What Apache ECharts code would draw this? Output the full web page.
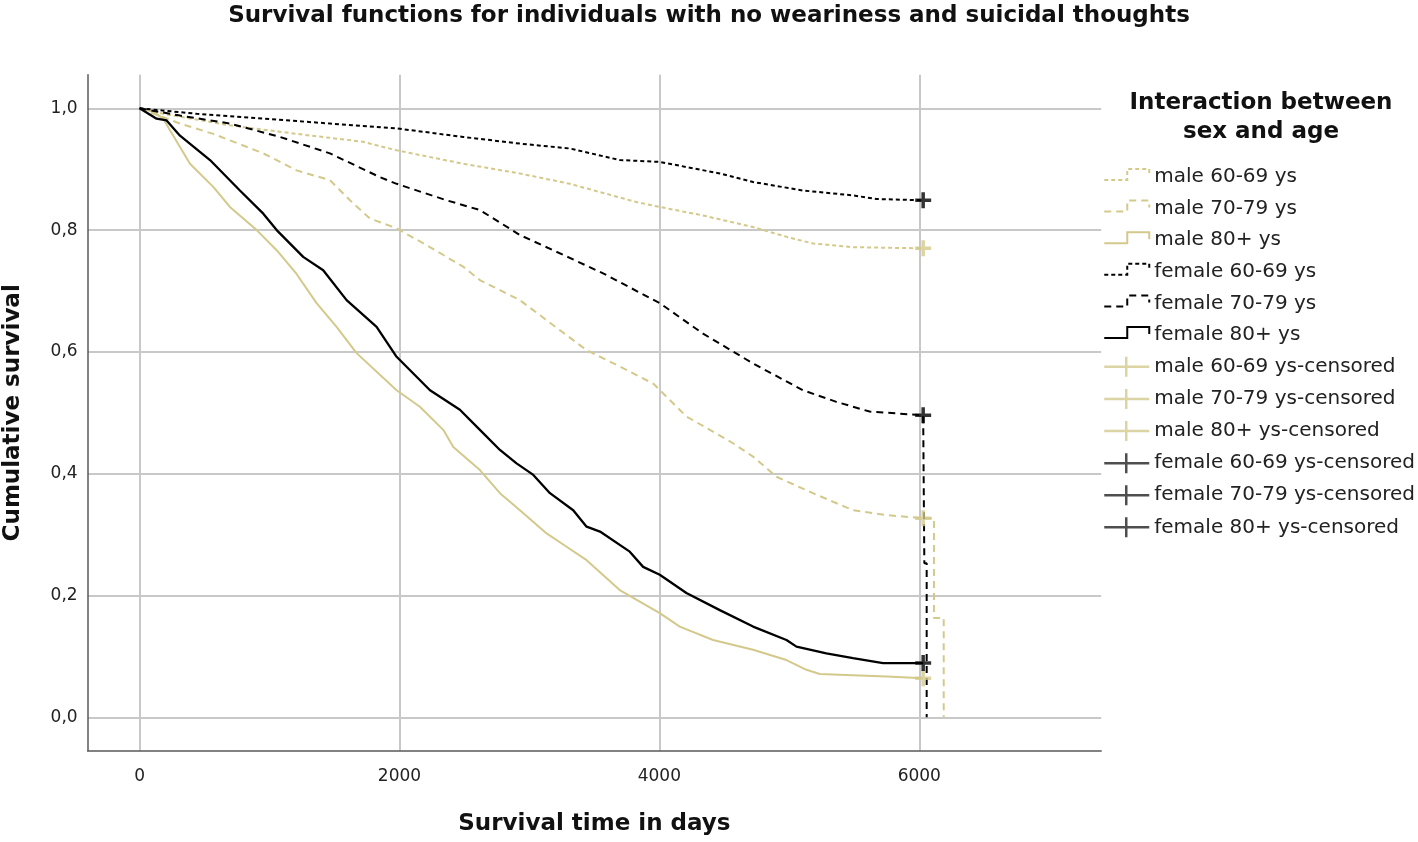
<!DOCTYPE html>
<html>
<head>
<meta charset="utf-8">
<script src="https://cdn.jsdelivr.net/npm/echarts@6/dist/echarts.min.js"></script>
<style>html,body{margin:0;padding:0;background:#fff}#chart{width:1418px;height:842px}</style>
</head>
<body>
<div id="chart"></div>
<script>
// ---- data ----
const xTicks = [0, 2000, 4000, 6000];
const yTicks = [0, 0.2, 0.4, 0.6, 0.8, 1.0];
const groupNames = ['male 60-69 ys', 'male 70-79 ys', 'male 80+ ys', 'female 60-69 ys', 'female 70-79 ys', 'female 80+ ys'];

const m60T = [0, 182, 695, 1208, 1721, 1978, 2490, 2926, 3311, 3824, 4003, 4336, 4721, 4978, 5182, 5490, 6030];
const m60S = [1, 0.991, 0.972, 0.958, 0.945, 0.931, 0.909, 0.893, 0.876, 0.846, 0.838, 0.824, 0.805, 0.789, 0.778, 0.772, 0.770];

const m70T = [0, 311, 567, 952, 1208, 1465, 1619, 1772, 1978, 2234, 2490, 2618, 2926, 3439, 3697, 3952, 4080, 4208, 4567, 4721, 4901, 5182, 5490, 5747, 6030, 6113, 6113, 6188, 6188];
const m70S = [1, 0.975, 0.958, 0.926, 0.898, 0.882, 0.849, 0.819, 0.803, 0.772, 0.740, 0.718, 0.685, 0.603, 0.576, 0.548, 0.521, 0.494, 0.450, 0.428, 0.395, 0.368, 0.340, 0.332, 0.327, 0.327, 0.163, 0.163, 0];

const m80T = [0, 100, 182, 234, 388, 567, 695, 901, 1055, 1208, 1362, 1516, 1670, 1978, 2157, 2337, 2414, 2619, 2773, 2927, 3132, 3286, 3440, 3695, 4003, 4157, 4413, 4721, 4978, 5132, 5234, 5747, 6030];
const m80S = [1, 0.995, 0.983, 0.964, 0.909, 0.871, 0.838, 0.800, 0.767, 0.728, 0.680, 0.641, 0.598, 0.537, 0.510, 0.472, 0.444, 0.406, 0.368, 0.340, 0.302, 0.280, 0.258, 0.209, 0.171, 0.149, 0.127, 0.111, 0.094, 0.078, 0.071, 0.067, 0.064];

const f60T = [0, 439, 952, 1465, 1978, 2490, 2926, 3311, 3695, 4003, 4465, 4721, 5105, 5490, 5670, 6030];
const f60S = [1, 0.991, 0.983, 0.975, 0.967, 0.953, 0.942, 0.934, 0.915, 0.912, 0.893, 0.879, 0.865, 0.857, 0.851, 0.849];

const f70T = [0, 311, 695, 1080, 1465, 1849, 1978, 2362, 2618, 2926, 3182, 3567, 4003, 4336, 4721, 5105, 5362, 5618, 6030, 6039, 6039, 6057, 6057];
const f70S = [1, 0.988, 0.975, 0.953, 0.926, 0.887, 0.876, 0.849, 0.833, 0.792, 0.767, 0.729, 0.680, 0.630, 0.581, 0.537, 0.518, 0.502, 0.496, 0.496, 0.253, 0.253, 0];

const f80T = [0, 131, 208, 311, 542, 772, 952, 1055, 1259, 1413, 1593, 1824, 1978, 2235, 2465, 2619, 2773, 2901, 3030, 3158, 3337, 3440, 3543, 3772, 3875, 4003, 4208, 4465, 4721, 4978, 5055, 5285, 5490, 5721, 6030];
const f80S = [1, 0.983, 0.980, 0.955, 0.915, 0.865, 0.827, 0.800, 0.756, 0.734, 0.685, 0.641, 0.592, 0.537, 0.505, 0.472, 0.439, 0.417, 0.398, 0.368, 0.340, 0.313, 0.305, 0.272, 0.247, 0.234, 0.204, 0.176, 0.149, 0.127, 0.116, 0.105, 0.097, 0.089, 0.089];

// censored marks (last follow-up time, survival)
const censorT = [6030, 6030, 6030, 6030, 6030, 6030];
const censorS = [0.770, 0.327, 0.064, 0.849, 0.496, 0.089];

// ---- styles ----
const TAN = '#d3c98b';
const BLK = '#000000';
const FONT = 'DejaVu Sans';
const colors = [TAN, TAN, TAN, BLK, BLK, BLK];
const dashes = [[4, 3], [7, 5], 'solid', [4, 3], [7, 5], 'solid'];
const widths = [2, 2, 2, 2, 2, 2.3];
const curvesT = [m60T, m70T, m80T, f60T, f70T, f80T];
const curvesS = [m60S, m70S, m80S, f60S, f70S, f80S];

const stepIcon = 'path://M0,0 L0,0 M0,13 L23,13 L23,2 L45,2 L45,9 M45,20 L45,20';
const crossIcon = 'path://M0,10 L45,10 M22,0 L22,20';
const crossMark = 'path://M0,6 L12,6 M6,0 L6,12';

const series = [];
const legendData = [];
groupNames.forEach((name, i) => {
  series.push({
    name: name,
    type: 'line',
    data: curvesT[i].map((t, k) => [t, curvesS[i][k]]),
    showSymbol: false,
    symbol: 'none',
    lineStyle: { color: colors[i], width: widths[i], type: dashes[i] },
    itemStyle: { color: colors[i] },
    z: i >= 3 ? 4 : 3
  });
  legendData.push({
    name: name,
    icon: stepIcon,
    itemStyle: { color: 'rgba(0,0,0,0)', borderColor: colors[i], borderWidth: 2, borderType: dashes[i] }
  });
});
groupNames.forEach((name, i) => {
  series.push({
    name: name + '-censored',
    type: 'scatter',
    data: [[censorT[i], censorS[i]]],
    symbol: crossMark,
    symbolSize: 16,
    itemStyle: { color: 'rgba(0,0,0,0)', borderColor: colors[i], borderWidth: 3.5 },
    z: 6
  });
  legendData.push({
    name: name + '-censored',
    icon: crossIcon,
    itemStyle: { color: 'rgba(0,0,0,0)', borderColor: i >= 3 ? '#222' : TAN, borderWidth: 2.5, borderType: 'solid' }
  });
});

const chart = echarts.init(document.getElementById('chart'), null, { renderer: 'canvas' });
chart.setOption({
  animation: false,
  backgroundColor: '#ffffff',
  title: [
    {
      text: 'Survival functions for individuals with no weariness and suicidal thoughts',
      left: 'center', top: 0,
      textStyle: { fontFamily: FONT, fontSize: 23, fontWeight: 'bold', color: '#111' }
    },
    {
      text: 'Interaction between\nsex and age',
      left: 1256, top: 84,
      textAlign: 'center', textVerticalAlign: 'top',
      textStyle: { fontFamily: FONT, fontSize: 23, fontWeight: 'bold', color: '#111', lineHeight: 29 }
    }
  ],
  legend: {
    orient: 'vertical',
    left: 1103, top: 166,
    padding: 0,
    itemWidth: 45, itemHeight: 20, itemGap: 9.6,
    selectedMode: false,
    textStyle: { fontFamily: FONT, fontSize: 20, color: '#222', lineHeight: 20 },
    data: legendData
  },
  grid: { left: 87.6, top: 74.8, width: 1013.6, height: 676, containLabel: false, outerBoundsMode: 'none' },
  xAxis: {
    type: 'value', min: -400, max: 7400,
    name: 'Survival time in days', nameLocation: 'middle', nameGap: 62,
    nameTextStyle: { fontFamily: FONT, fontSize: 23, fontWeight: 'bold', color: '#111' },
    axisLine: { show: true, onZero: false, lineStyle: { color: '#5a5a5a', width: 1.5 } },
    axisTick: { show: false, customValues: xTicks },
    axisLabel: { customValues: xTicks, fontFamily: FONT, fontSize: 17, color: '#222', margin: 17, formatter: v => String(v) },
    splitLine: { show: true, lineStyle: { color: '#c8c8c8', width: 2 } }
  },
  yAxis: {
    type: 'value', min: -0.055, max: 1.055,
    name: 'Cumulative survival', nameLocation: 'middle', nameGap: 63, nameRotate: 90,
    nameTextStyle: { fontFamily: FONT, fontSize: 23, fontWeight: 'bold', color: '#111' },
    axisLine: { show: true, onZero: false, lineStyle: { color: '#5a5a5a', width: 1.5 } },
    axisTick: { show: false, customValues: yTicks },
    axisLabel: {
      customValues: yTicks, fontFamily: FONT, fontSize: 17, color: '#222', margin: 10,
      formatter: v => v.toFixed(1).replace('.', ',')
    },
    splitLine: { show: true, lineStyle: { color: '#c8c8c8', width: 2 } }
  },
  series: series
});
</script>
</body>
</html>
